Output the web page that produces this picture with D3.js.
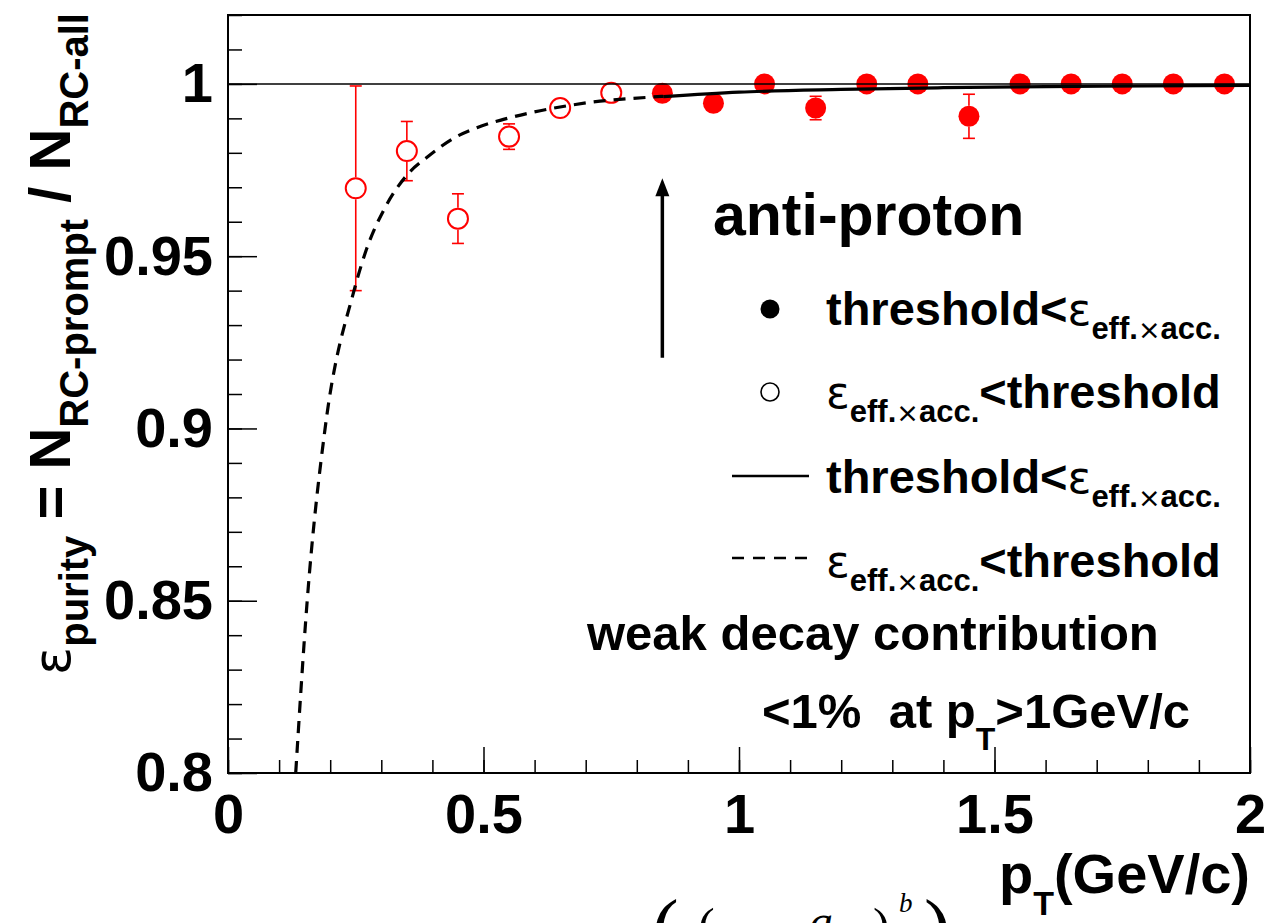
<!DOCTYPE html>
<html>
<head>
<meta charset="utf-8">
<script src="https://cdn.jsdelivr.net/npm/d3@7"></script>
<style>
  html, body { margin: 0; padding: 0; background: #fff; }
  svg { display: block; }
  text { font-family: "Liberation Sans", Arial, Helvetica, sans-serif; font-weight: bold; fill: #000; }
  .sym { font-family: "DejaVu Sans", sans-serif; font-weight: normal; }
  .serif { font-family: "Liberation Serif", "DejaVu Serif", serif; font-weight: normal; }
</style>
</head>
<body>
<svg id="chart" width="1280" height="923"></svg>
<script>
// ---------- data ----------
const ptOpen      = [0.25, 0.35, 0.45, 0.55, 0.65, 0.75];
const purityOpen  = [0.9697, 0.9805, 0.9609, 0.9847, 0.9930, 0.9974];
const errOpen     = [0.0297, 0.0086, 0.0072, 0.0037, 0.0010, 0.0000];

const ptFilled     = [0.85, 0.95, 1.05, 1.15, 1.25, 1.35, 1.45, 1.55, 1.65, 1.75, 1.85, 1.95];
const purityFilled = [0.9973, 0.9944, 1.0000, 0.9930, 1.0000, 1.0000, 0.9906, 1.0000, 1.0000, 1.0000, 1.0000, 1.0000];
const errFilled    = [0.0000, 0.0010, 0.0000, 0.0034, 0.0000, 0.0000, 0.0064, 0.0000, 0.0000, 0.0000, 0.0000, 0.0000];

// fit curve (eff x acc < threshold), dashed
const dashPt  = [0.1325, 0.155, 0.19, 0.2466, 0.271, 0.307, 0.35, 0.392, 0.441, 0.487, 0.539, 0.597, 0.662, 0.728, 0.793, 0.852];
const dashVal = [0.800, 0.850, 0.900, 0.940, 0.9520, 0.9640, 0.9735, 0.9790, 0.9842, 0.9873, 0.9897, 0.9918, 0.9936, 0.9950, 0.9958, 0.9964];
// fit curve (threshold < eff x acc), solid
const solidPt  = [0.852, 1.0, 1.2, 1.4, 1.6, 1.8, 2.0];
const solidVal = [0.9963, 0.9976, 0.9984, 0.9989, 0.9992, 0.9994, 0.9996];

// arrow marking the threshold
const arrowPt = 0.85;
const arrowFrom = 0.9205;
const arrowTo = 0.9726;

const xDomain = [0, 2];
const yDomain = [0.8, 1.02];
const xMajorTicks = [0, 0.5, 1, 1.5, 2];
const xTickLabels = ["0", "0.5", "1", "1.5", "2"];
const yMajorTicks = [0.8, 0.85, 0.9, 0.95, 1.0];
const yTickLabels = ["0.8", "0.85", "0.9", "0.95", "1"];
const xMinorTicks = d3.range(0, 21).map(i => i / 10);
const yMinorTicks = d3.range(0, 23).map(i => 0.8 + i / 100);

// ---------- layout ----------
const L = 228, R = 1250, T = 15, B = 773;
const svg = d3.select("#chart");
const x = d3.scaleLinear().domain(xDomain).range([L, R]);
const y = d3.scaleLinear().domain(yDomain).range([B, T]);
const red = "#ff0000";

// frame
svg.append("rect").attr("x", L).attr("y", T).attr("width", R - L).attr("height", B - T)
  .attr("fill", "none").attr("stroke", "#000").attr("stroke-width", 2);

// axes
const xMinorAxis = d3.axisBottom(x).tickValues(xMinorTicks).tickSize(-13).tickFormat("");
const xMajorAxis = d3.axisBottom(x).tickValues(xMajorTicks).tickSize(-26).tickPadding(20)
  .tickFormat((d, i) => xTickLabels[i]);
const yMinorAxis = d3.axisLeft(y).tickValues(yMinorTicks).tickSize(-14).tickFormat("");
const yMajorAxis = d3.axisLeft(y).tickValues(yMajorTicks).tickSize(-29).tickPadding(15)
  .tickFormat((d, i) => yTickLabels[i]);

function styleAxis(g) {
  g.select(".domain").remove();
  g.selectAll(".tick line").attr("stroke", "#000").attr("stroke-width", 1.5);
  g.selectAll("text").attr("font-size", 56).attr("font-family", "Liberation Sans, Arial, sans-serif")
    .attr("font-weight", "bold").attr("fill", "#000");
}
svg.append("g").attr("transform", `translate(0,${B})`).call(xMinorAxis).call(styleAxis);
svg.append("g").attr("transform", `translate(0,${B})`).call(xMajorAxis).call(styleAxis);
svg.append("g").attr("transform", `translate(${L},0)`).call(yMinorAxis).call(styleAxis);
svg.append("g").attr("transform", `translate(${L},0)`).call(yMajorAxis).call(styleAxis);

// clip for plot area
svg.append("clipPath").attr("id", "plotclip").append("rect")
  .attr("x", L).attr("y", T).attr("width", R - L).attr("height", B - T);
const plot = svg.append("g").attr("clip-path", "url(#plotclip)");

// error bars
const rOpen = 11, rFilled = 10.5, cap = 6;
function errorBars(pts, vals, errs, r) {
  pts.forEach((p, i) => {
    if (errs[i] <= 0) return;
    const cx = x(p), cy = y(vals[i]);
    const top = y(vals[i] + errs[i]), bot = y(vals[i] - errs[i]);
    if (cy - r > top) {
      plot.append("line").attr("x1", cx).attr("x2", cx).attr("y1", cy - r).attr("y2", top)
        .attr("stroke", red).attr("stroke-width", 1.6);
      plot.append("line").attr("x1", cx - cap).attr("x2", cx + cap).attr("y1", top).attr("y2", top)
        .attr("stroke", red).attr("stroke-width", 1.6);
    }
    if (bot > cy + r) {
      plot.append("line").attr("x1", cx).attr("x2", cx).attr("y1", cy + r).attr("y2", bot)
        .attr("stroke", red).attr("stroke-width", 1.6);
      plot.append("line").attr("x1", cx - cap).attr("x2", cx + cap).attr("y1", bot).attr("y2", bot)
        .attr("stroke", red).attr("stroke-width", 1.6);
    }
  });
}
errorBars(ptOpen, purityOpen, errOpen, rOpen);
errorBars(ptFilled, purityFilled, errFilled, rFilled);

// markers
plot.selectAll(".open").data(ptOpen).enter().append("circle")
  .attr("cx", d => x(d)).attr("cy", (d, i) => y(purityOpen[i])).attr("r", rOpen - 1)
  .attr("fill", "none").attr("stroke", red).attr("stroke-width", 2);
plot.selectAll(".filled").data(ptFilled).enter().append("circle")
  .attr("cx", d => x(d)).attr("cy", (d, i) => y(purityFilled[i])).attr("r", rFilled)
  .attr("fill", red);

// y = 1 reference line
plot.append("line").attr("x1", L).attr("x2", R).attr("y1", y(1)).attr("y2", y(1))
  .attr("stroke", "#000").attr("stroke-width", 1.5);

// fit curves
const line = d3.line().x(d => x(d[0])).y(d => y(d[1])).curve(d3.curveMonotoneX);
plot.append("path").datum(dashPt.map((p, i) => [p, dashVal[i]])).attr("d", line)
  .attr("fill", "none").attr("stroke", "#000").attr("stroke-width", 3.2).attr("stroke-dasharray", "12,8");
plot.append("path").datum(solidPt.map((p, i) => [p, solidVal[i]])).attr("d", line)
  .attr("fill", "none").attr("stroke", "#000").attr("stroke-width", 3.2);

// arrow
const ax = x(arrowPt), ay0 = y(arrowFrom), ay1 = y(arrowTo);
svg.append("line").attr("x1", ax).attr("x2", ax).attr("y1", ay0).attr("y2", ay1 + 14)
  .attr("stroke", "#000").attr("stroke-width", 3.5);
svg.append("path").attr("d", `M${ax},${ay1} L${ax - 7},${ay1 + 18} L${ax + 7},${ay1 + 18} Z`).attr("fill", "#000");

// ---------- texts ----------
svg.append("text").attr("x", 713).attr("y", 235).attr("font-size", 59).text("anti-proton");

// legend
const legX = 826;
svg.append("circle").attr("cx", 770).attr("cy", 309).attr("r", 9.5).attr("fill", "#000");
svg.append("circle").attr("cx", 770).attr("cy", 392).attr("r", 9).attr("fill", "none").attr("stroke", "#000").attr("stroke-width", 1.6);
svg.append("line").attr("x1", 732).attr("x2", 809).attr("y1", 476).attr("y2", 476).attr("stroke", "#000").attr("stroke-width", 2.5);
svg.append("line").attr("x1", 732).attr("x2", 809).attr("y1", 558).attr("y2", 558).attr("stroke", "#000").attr("stroke-width", 2.5).attr("stroke-dasharray", "12,9");

function subEffAcc(t) {
  const s = t.append("tspan").attr("dy", 14).attr("font-size", 31);
  s.append("tspan").text("eff.");
  s.append("tspan").attr("class", "sym").attr("font-size", 27).text("×");
  s.append("tspan").text("acc.");
}
function threshLess(yb) {
  const t = svg.append("text").attr("x", legX).attr("y", yb).attr("font-size", 47);
  t.append("tspan").text("threshold<");
  t.append("tspan").attr("class", "sym").attr("font-size", 44).text("ε");
  subEffAcc(t);
}
function epsLess(yb) {
  const t = svg.append("text").attr("x", legX).attr("y", yb).attr("font-size", 47);
  t.append("tspan").attr("class", "sym").attr("font-size", 44).text("ε");
  subEffAcc(t);
  t.append("tspan").attr("dy", -14).text("<threshold");
}
threshLess(325);
epsLess(408);
threshLess(493);
epsLess(577);

svg.append("text").attr("x", 587).attr("y", 650).attr("font-size", 49).text("weak decay contribution");
{
  const t = svg.append("text").attr("x", 762).attr("y", 728).attr("font-size", 49).style("white-space", "pre");
  t.append("tspan").text("<1%  at p");
  t.append("tspan").attr("dy", 22).attr("font-size", 32).text("T");
  t.append("tspan").attr("dy", -22).text(">1GeV/c");
}

// x title
{
  const t = svg.append("text").attr("x", 1250).attr("y", 893).attr("font-size", 56).attr("text-anchor", "end");
  t.append("tspan").text("p");
  t.append("tspan").attr("dy", 22).attr("font-size", 34).text("T");
  t.append("tspan").attr("dy", -22).text("(GeV/c)");
}

// y title
{
  const t = svg.append("text").attr("transform", "translate(70,13) rotate(-90)")
    .attr("text-anchor", "end").attr("font-size", 58).style("white-space", "pre");
  t.append("tspan").attr("class", "sym").attr("font-size", 52).text("ε");
  t.append("tspan").attr("dy", 18).attr("font-size", 40).text("purity");
  t.append("tspan").attr("dy", -18).text(" = N");
  t.append("tspan").attr("dy", 18).attr("font-size", 40).text("RC-prompt");
  t.append("tspan").attr("dy", -18).text(" / N");
  t.append("tspan").attr("dy", 18).attr("font-size", 40).text("RC-all");
}

// cropped formula fragment at the bottom edge (cut off in the reference too)
svg.append("text").attr("class", "serif").attr("x", 652).attr("y", 955).attr("font-size", 80).text("(");
svg.append("text").attr("class", "serif").attr("x", 698).attr("y", 943).attr("font-size", 50).text("(");
svg.append("text").attr("class", "serif").attr("x", 809).attr("y", 938).attr("font-size", 48).attr("font-style", "italic").text("a");
svg.append("text").attr("class", "serif").attr("x", 873).attr("y", 943).attr("font-size", 50).text(")");
svg.append("text").attr("class", "serif").attr("x", 899).attr("y", 912).attr("font-size", 27).attr("font-style", "italic").text("b");
svg.append("text").attr("class", "serif").attr("x", 924).attr("y", 955).attr("font-size", 80).text(")");
</script>
</body>
</html>
